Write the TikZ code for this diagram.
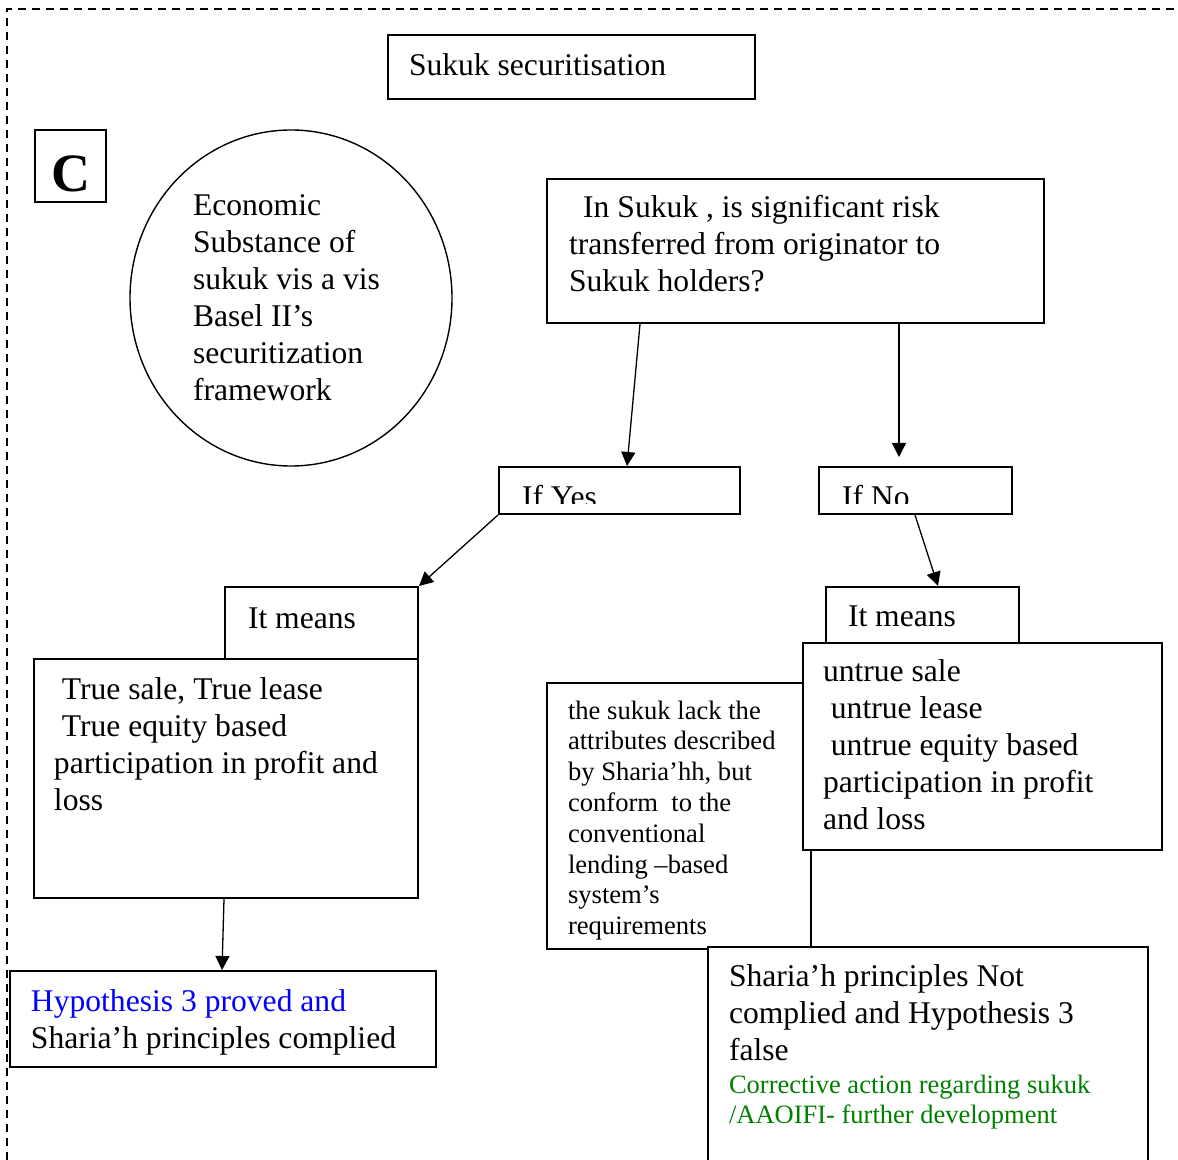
\documentclass[tikz,border=0pt]{standalone}
\usepackage{fontspec}
\setmainfont{Liberation Serif}
\definecolor{HypBlue}{RGB}{0, 0, 255}
\definecolor{ActGreen}{RGB}{0, 128, 0}
\usetikzlibrary{arrows.meta, shapes.geometric}
\newcommand{\bodyfont}{\fontsize{15.8}{18.5}\selectfont}
\newcommand{\notefont}{\fontsize{13.3}{15.4}\selectfont}
\newcommand{\greenfont}{\fontsize{13.25}{15}\selectfont}
\newcommand{\indsp}{\hspace*{0.25em}}

\begin{document}
\begin{tikzpicture}[
        x=0.5pt, y=-0.5pt,
        % Styles
        box/.style n args={4}{rectangle, draw, line width=1pt, fill=white, anchor=north west, align=flush left, font=\bodyfont, inner ysep=0pt, inner xsep=#1, text width=#2, text height=#3, text depth=#4},
        bubble/.style={ellipse, draw, line width=0.7pt, inner sep=0pt, minimum width=161pt, minimum height=168pt, text width=98pt, align=flush left, font=\bodyfont},
        cut/.style={path picture={
            \clip (path picture bounding box.north west) rectangle ([yshift=5.5pt]path picture bounding box.south east);
            \node[anchor=base west, inner sep=0pt, text width=, text height=, text depth=, font=\bodyfont] at ([xshift=11pt, yshift=-20.5pt]path picture bounding box.north west) {#1};}},
        line/.style={draw, line width=0.65pt, -{Triangle[length=7pt, width=7pt]}},
        frame/.style={draw, line width=0.6pt, dash pattern=on 4pt off 3pt}
    ]
        \useasboundingbox (0,0) rectangle (1178,1160);
        \clip (0,0) rectangle (1178,1160);
        \draw[frame] (7,1160) -- (7,9) -- (1178,9);

        % Nodes
        \node[box={10.5pt}{162.5pt}{20.5pt}{11.5pt}] (title) at (387,34) {Sukuk securitisation};
        \node[draw, line width=1pt, minimum width=35.5pt, minimum height=36pt, inner sep=0pt, text height=26pt, text depth=0pt, font=\fontsize{27}{27}\selectfont\bfseries] (tag) at (70.5,166) {C};
        \node[bubble] (substance) at (291,298) {Economic\\Substance of\\sukuk vis a vis\\Basel II’s\\securitization\\framework};
        \node[box={11pt}{226.5pt}{19.5pt}{52.5pt}] (question) at (546,178) {\hspace*{0.45em}In Sukuk , is significant risk\\transferred from originator to\\Sukuk holders?};

        \node[box={11pt}{98.5pt}{20pt}{3.5pt}, cut={If Yes}] (ifyes) at (498,466) {};
        \node[box={11pt}{74.5pt}{20pt}{3.5pt}, cut={If No}] (ifno) at (818,466) {};

        \node[box={11.5pt}{73.5pt}{20.5pt}{15.5pt}] (meansL) at (224,586) {It means};
        \node[box={10pt}{172pt}{20pt}{99.5pt}] (truesale) at (33,658) {\indsp True sale, True lease\\\indsp True equity based\\participation in profit and\\loss};
        \node[box={10.5pt}{192pt}{20pt}{28pt}] (hyp) at (9,970) {\textcolor{HypBlue}{Hypothesis 3 proved and}\\Sharia’h principles complied};

        \node[box={11pt}{74.5pt}{19.5pt}{8.5pt}] (meansR) at (825,586) {It means};
        \node[box={10.5pt}{111pt}{18pt}{115pt}, font=\notefont] (lack) at (546,682) {the sukuk lack the\\attributes described\\by Sharia’hh, but\\conform\ \ to the\\conventional\\lending –based\\system’s\\requirements};
        \node[box={10pt}{159.5pt}{19pt}{84.5pt}] (untrue) at (802,642) {untrue sale\\\indsp untrue lease\\\indsp untrue equity based\\participation in profit\\and loss};
        \node[box={10.5pt}{199pt}{19.5pt}{100pt}] (sharia) at (707,946) {Sharia’h principles Not\\complied and Hypothesis 3\\false\par\vspace{1.5pt}{\greenfont\leavevmode\color{ActGreen}Corrective action regarding sukuk\\/AAOIFI- further development\par}};

        % Paths
        \path[line] ([xshift=47pt]question.south west) -- ([xshift=64.5pt]ifyes.north west);
        \path[line] ([xshift=176.5pt]question.south west) -- ([xshift=40.5pt, yshift=4.5pt]ifno.north west);
        \path[line] (ifyes.south west) -- (meansL.north east);
        \path[line] ([xshift=48.5pt]ifno.south west) -- ([xshift=56.5pt]meansR.north west);
        \path[line] ([xshift=95.5pt]truesale.south west) -- ([xshift=106.5pt]hyp.north west);
    \end{tikzpicture}
\end{document}
